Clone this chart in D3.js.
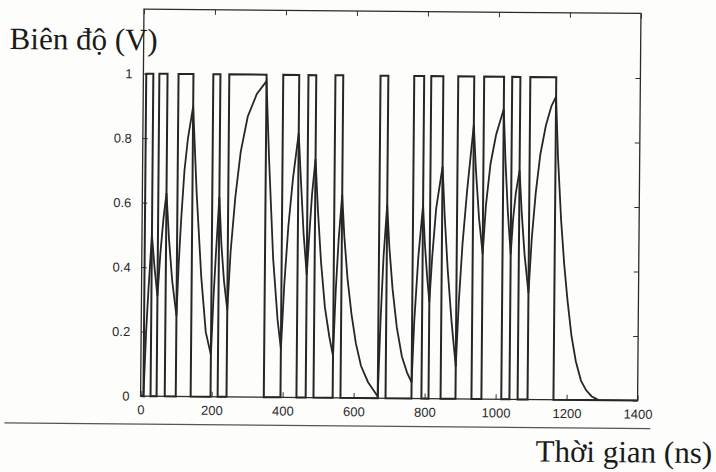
<!DOCTYPE html>
<meta charset="utf-8">
<head>
<style>
  body { margin: 0; background: #fdfdfc; }
  svg { display: block; }
  .tick text { font-family: "Liberation Sans", Arial, sans-serif; font-size: 13px; fill: #2a2a2a; }
  .label { font-family: "Liberation Serif", "Times New Roman", serif; font-size: 31px; fill: #1a1a1a; }
</style>
</head>
<body>
<script src="https://d3js.org/d3.v7.min.js"></script>
<script>
// square wave: times where the level changes and the level after each time
const squareT = [0, 8, 28, 45, 68, 99, 141, 197, 217, 242, 347, 394, 439, 465, 487, 541, 563,
                 668, 690, 763, 791, 811, 845, 887, 932, 960, 1016, 1039, 1062, 1090, 1163, 1400];
const squareV = [0, 1, 0, 1, 0, 1, 0, 1, 0, 1, 0, 1, 0, 1, 0, 1, 0,
                 1, 0, 1, 0, 1, 0, 1, 0, 1, 0, 1, 0, 1, 0, 0];

// filtered (RC) response
const respT = [0, 8, 14, 20, 28, 36, 45, 52, 60, 68, 76, 86, 99,
               104, 110, 118, 127, 141, 153, 168, 182, 197, 203, 209, 217, 224, 232, 242,
               250, 262, 276, 295, 320, 347, 356, 370, 384, 394, 402, 412, 424, 439,
               446, 455, 465, 471, 478, 487, 495, 505, 517, 530, 541, 547, 554, 563,
               570, 580, 592, 605, 620, 640, 668, 674, 681, 690, 697, 707, 720, 735, 750, 763,
               769, 779, 791, 797, 804, 811, 818, 828, 845, 852, 862, 874, 887,
               894, 903, 915, 932, 939, 949, 960, 968, 980, 995, 1016, 1022, 1030, 1039,
               1045, 1052, 1062, 1069, 1078, 1090, 1098, 1108, 1120, 1135, 1150, 1163,
               1170, 1180, 1190, 1200, 1212, 1225, 1240, 1255, 1270, 1290];
const respV = [0, 0, 0.20, 0.34, 0.50, 0.40, 0.31, 0.44, 0.55, 0.63, 0.49, 0.36, 0.25,
               0.41, 0.55, 0.70, 0.80, 0.90, 0.63, 0.37, 0.20, 0.13, 0.31, 0.45, 0.62, 0.47, 0.36, 0.27,
               0.45, 0.62, 0.76, 0.87, 0.94, 0.98, 0.74, 0.43, 0.24, 0.15, 0.35, 0.53, 0.68, 0.82,
               0.68, 0.51, 0.38, 0.50, 0.63, 0.74, 0.58, 0.42, 0.28, 0.19, 0.13, 0.33, 0.49, 0.63,
               0.50, 0.37, 0.26, 0.17, 0.10, 0.05, 0.005, 0.24, 0.44, 0.60, 0.47, 0.34, 0.22, 0.13, 0.08, 0.05,
               0.24, 0.44, 0.60, 0.48, 0.38, 0.30, 0.44, 0.59, 0.72, 0.57, 0.40, 0.24, 0.10,
               0.30, 0.48, 0.65, 0.85, 0.71, 0.56, 0.45, 0.60, 0.73, 0.82, 0.90, 0.74, 0.58, 0.45,
               0.56, 0.64, 0.71, 0.58, 0.45, 0.33, 0.50, 0.64, 0.76, 0.85, 0.91, 0.94,
               0.75, 0.56, 0.42, 0.31, 0.20, 0.12, 0.06, 0.03, 0.012, 0];

const xTicks = [0, 200, 400, 600, 800, 1000, 1200, 1400];
const yTicks = [0, 0.2, 0.4, 0.6, 0.8, 1];

const width = 716, height = 472;
const L = 142, R = 639, T = 11, B = 398;

const svg = d3.select("body").append("svg")
    .attr("width", width)
    .attr("height", height);

// the scan is a little skewed
const g = svg.append("g")
    .attr("transform", "rotate(0.5, 358, 236)");

const x = d3.scaleLinear().domain([0, 1400]).range([L, R]);
const y = d3.scaleLinear().domain([0, 1.2]).range([B, T]);

// axes, ticks pointing inwards like matlab
g.append("g")
    .attr("transform", `translate(0,${B})`)
    .call(d3.axisBottom(x).tickValues(xTicks).tickSize(-5).tickPadding(9).tickFormat(d3.format("d")))
    .call(a => a.select(".domain").remove());
g.append("g")
    .attr("transform", `translate(0,${T})`)
    .call(d3.axisTop(x).tickValues(xTicks).tickSize(-5).tickFormat(""))
    .call(a => a.select(".domain").remove());
g.append("g")
    .attr("transform", `translate(${L},0)`)
    .call(d3.axisLeft(y).tickValues(yTicks).tickSize(-5).tickPadding(11).tickFormat(d => d === 0 || d === 1 ? d : d.toFixed(1)))
    .call(a => a.select(".domain").remove());
g.append("g")
    .attr("transform", `translate(${R},0)`)
    .call(d3.axisRight(y).tickValues(yTicks).tickSize(-5).tickFormat(""))
    .call(a => a.select(".domain").remove());

g.selectAll(".tick line").attr("stroke", "#333");

g.append("rect")
    .attr("x", L).attr("y", T)
    .attr("width", R - L).attr("height", B - T)
    .attr("fill", "none")
    .attr("stroke", "#2a2a2a")
    .attr("stroke-width", 1.3);

const sq = squareT.map((t, i) => [t, squareV[i]]);
const resp = respT.map((t, i) => [t, respV[i]]);

g.append("path")
    .datum(sq)
    .attr("fill", "none")
    .attr("stroke", "#262626")
    .attr("stroke-width", 2)
    .attr("d", d3.line().x(d => x(d[0])).y(d => y(d[1])).curve(d3.curveStepAfter));

g.append("path")
    .datum(resp)
    .attr("fill", "none")
    .attr("stroke", "#262626")
    .attr("stroke-width", 1.8)
    .attr("d", d3.line().x(d => x(d[0])).y(d => y(d[1])));

// labels
g.append("text")
    .attr("class", "label")
    .attr("x", 8).attr("y", 52)
    .text("Biên độ (V)");

g.append("line")
    .attr("x1", 6).attr("x2", 652)
    .attr("y1", 426).attr("y2", 426)
    .attr("stroke", "#555")
    .attr("stroke-width", 1.2);

g.append("text")
    .attr("class", "label")
    .attr("x", 714).attr("y", 460)
    .attr("text-anchor", "end")
    .text("Thời gian (ns)");
</script>
</body>
